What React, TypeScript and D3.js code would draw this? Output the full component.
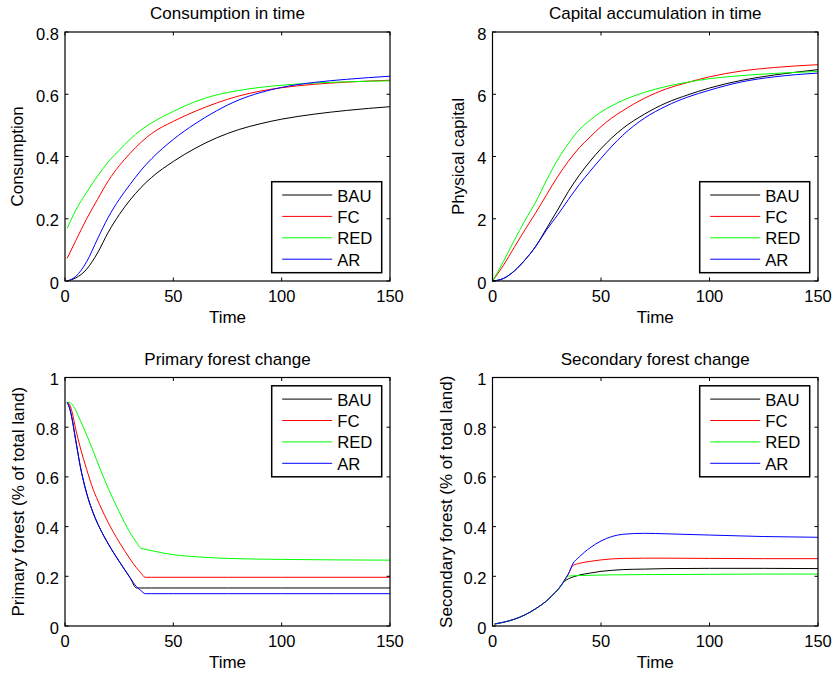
import React from 'react';
import * as d3 from 'd3';

const SCENARIOS = ['BAU', 'FC', 'RED', 'AR'];
const COLORS = ['#000000', '#ff0000', '#00ff00', '#0000ff'];

// Consumption in time
const T1 = [1, 5, 10, 15, 20, 25, 30, 35, 40, 50, 60, 70, 80, 90, 100, 115, 130, 150];
const consBAU = [0.0, 0.01, 0.038, 0.09, 0.157, 0.213, 0.26, 0.3, 0.333, 0.384, 0.426, 0.46, 0.486, 0.505, 0.52, 0.536, 0.548, 0.56];
const consFC = [0.073, 0.13, 0.2, 0.262, 0.322, 0.37, 0.41, 0.445, 0.474, 0.513, 0.545, 0.572, 0.594, 0.61, 0.621, 0.632, 0.639, 0.645];
const consRED = [0.169, 0.228, 0.285, 0.337, 0.383, 0.42, 0.455, 0.485, 0.508, 0.545, 0.576, 0.598, 0.612, 0.622, 0.629, 0.636, 0.64, 0.643];
const consAR = [0.0, 0.015, 0.062, 0.135, 0.205, 0.262, 0.31, 0.355, 0.393, 0.455, 0.505, 0.547, 0.581, 0.605, 0.622, 0.638, 0.648, 0.658];

// Capital accumulation in time
const T2 = [0, 5, 10, 15, 20, 25, 30, 35, 40, 45, 50, 55, 60, 70, 80, 90, 100, 115, 130, 150];
const capBAU = [0, 0.08, 0.32, 0.68, 1.12, 1.7, 2.28, 2.88, 3.4, 3.85, 4.25, 4.6, 4.9, 5.36, 5.72, 5.98, 6.2, 6.45, 6.62, 6.79];
const capFC = [0, 0.5, 1.08, 1.65, 2.2, 2.78, 3.35, 3.85, 4.28, 4.63, 4.96, 5.24, 5.47, 5.87, 6.17, 6.38, 6.56, 6.75, 6.86, 6.95];
const capRED = [0, 0.62, 1.3, 1.95, 2.55, 3.25, 3.89, 4.42, 4.86, 5.17, 5.43, 5.63, 5.8, 6.06, 6.25, 6.39, 6.5, 6.6, 6.67, 6.73];
const capAR = [0, 0.08, 0.32, 0.68, 1.12, 1.65, 2.12, 2.62, 3.1, 3.53, 3.94, 4.33, 4.68, 5.23, 5.62, 5.91, 6.13, 6.4, 6.56, 6.68];

// Primary forest change
const T3 = [1, 2, 3, 5, 7, 10, 13, 16, 20, 25, 30, 33, 35, 37, 40, 50, 60, 75, 100, 125, 150];
const priBAU = [0.9, 0.88, 0.845, 0.745, 0.645, 0.534, 0.455, 0.395, 0.33, 0.26, 0.195, 0.153, 0.153, 0.153, 0.153, 0.153, 0.153, 0.153, 0.153, 0.153, 0.153];
const priFC = [0.9, 0.893, 0.87, 0.79, 0.72, 0.63, 0.55, 0.488, 0.415, 0.338, 0.27, 0.234, 0.214, 0.196, 0.196, 0.196, 0.196, 0.196, 0.196, 0.196, 0.196];
const priRED = [0.9, 0.9, 0.895, 0.867, 0.828, 0.769, 0.704, 0.637, 0.553, 0.46, 0.376, 0.337, 0.313, 0.309, 0.303, 0.287, 0.279, 0.272, 0.268, 0.266, 0.265];
const priAR = [0.9, 0.88, 0.845, 0.745, 0.645, 0.534, 0.455, 0.395, 0.33, 0.26, 0.195, 0.158, 0.143, 0.13, 0.13, 0.13, 0.13, 0.13, 0.13, 0.13, 0.13];

// Secondary forest change
const T4 = [1, 5, 10, 15, 20, 25, 28, 30, 32, 33, 35, 37, 40, 45, 50, 55, 60, 70, 80, 100, 125, 150];
const secBAU = [0.008, 0.015, 0.027, 0.045, 0.07, 0.102, 0.127, 0.145, 0.168, 0.178, 0.19, 0.197, 0.205, 0.213, 0.22, 0.224, 0.227, 0.229, 0.231, 0.232, 0.232, 0.231];
const secFC = [0.008, 0.015, 0.027, 0.045, 0.07, 0.102, 0.127, 0.145, 0.168, 0.182, 0.21, 0.243, 0.252, 0.26, 0.266, 0.27, 0.272, 0.273, 0.273, 0.272, 0.271, 0.271];
const secRED = [0.008, 0.015, 0.027, 0.045, 0.07, 0.102, 0.127, 0.145, 0.168, 0.18, 0.201, 0.202, 0.203, 0.204, 0.205, 0.206, 0.206, 0.207, 0.207, 0.208, 0.209, 0.209];
const secAR = [0.008, 0.015, 0.027, 0.045, 0.07, 0.102, 0.127, 0.145, 0.168, 0.182, 0.21, 0.25, 0.278, 0.315, 0.342, 0.36, 0.369, 0.373, 0.371, 0.366, 0.36, 0.357];

const X_TICKS = [0, 50, 100, 150];
const Y_TICKS_CONS = [0, 0.2, 0.4, 0.6, 0.8];
const Y_TICKS_CAP = [0, 2, 4, 6, 8];
const Y_TICKS_FOREST = [0, 0.2, 0.4, 0.6, 0.8, 1];

const FONT = '"Liberation Sans", Arial, Helvetica, sans-serif';

type PanelProps = {
  left: number; top: number; right: number; bottom: number;
  title: string; ylabel: string; yTicks: number[];
  T: number[]; series: number[][]; legendTop: boolean; ylabelOffset: number;
};

function Panel(p: PanelProps) {
  const x = d3.scaleLinear().domain([0, 150]).range([p.left, p.right]);
  const y = d3.scaleLinear().domain([p.yTicks[0], p.yTicks[p.yTicks.length - 1]]).range([p.bottom, p.top]);
  const tl = 3.5;
  const cx = (p.left + p.right) / 2;
  const cy = (p.top + p.bottom) / 2;
  const lw = 110, lh = 91;
  const lx = p.right - 8.3 - lw;
  const ly = p.legendTop ? p.top + 8.3 : p.bottom - 8.3 - lh;
  return (
    <g>
      {p.series.map((vals, si) => {
        const line = d3.line<number>()
          .x((_, i) => x(p.T[i]))
          .y((d) => y(d))
          .curve(d3.curveMonotoneX);
        return <path key={si} d={line(vals) || ''} fill="none" stroke={COLORS[si]} strokeWidth={1} />;
      })}
      <rect x={p.left} y={p.top} width={p.right - p.left} height={p.bottom - p.top} fill="none" stroke="#000" strokeWidth={1.2} />
      {X_TICKS.map((t) => (
        <g key={'x' + t}>
          <line x1={x(t)} x2={x(t)} y1={p.bottom} y2={p.bottom - tl} stroke="#000" />
          <line x1={x(t)} x2={x(t)} y1={p.top} y2={p.top + tl} stroke="#000" />
          <text x={x(t)} y={p.bottom + 20.7} textAnchor="middle" fontSize={16.5} fontFamily={FONT}>{String(t)}</text>
        </g>
      ))}
      {p.yTicks.map((v) => (
        <g key={'y' + v}>
          <line x1={p.left} x2={p.left + tl} y1={y(v)} y2={y(v)} stroke="#000" />
          <line x1={p.right} x2={p.right - tl} y1={y(v)} y2={y(v)} stroke="#000" />
          <text x={p.left - 6} y={y(v) + 7.5} textAnchor="end" fontSize={16.5} fontFamily={FONT}>{String(v)}</text>
        </g>
      ))}
      <text x={cx} y={p.bottom + 41.5} textAnchor="middle" fontSize={17} fontFamily={FONT}>Time</text>
      <text x={cx} y={p.top - 12.8} textAnchor="middle" fontSize={17} fontFamily={FONT}>{p.title}</text>
      <text transform={`translate(${p.left - p.ylabelOffset},${cy}) rotate(-90)`} textAnchor="middle" fontSize={17} fontFamily={FONT}>{p.ylabel}</text>
      <rect x={lx} y={ly} width={lw} height={lh} fill="#fff" stroke="#000" strokeWidth={1.5} />
      {SCENARIOS.map((s, i) => {
        const ry = ly + 13.3 + i * 21.4;
        return (
          <g key={s}>
            <line x1={lx + 10.5} x2={lx + 60.5} y1={ry} y2={ry} stroke={COLORS[i]} strokeWidth={1} />
            <text x={lx + 65.5} y={ry + 6.5} fontSize={16.7} fontFamily={FONT}>{s}</text>
          </g>
        );
      })}
    </g>
  );
}

export default function App() {
  return (
    <svg width={835} height={675} style={{ position: 'absolute', left: 0, top: 0, background: '#fff' }}>
      <rect x={0} y={0} width={835} height={675} fill="#fff" />
      <Panel left={65} top={32} right={390} bottom={281} title="Consumption in time" ylabel="Consumption"
        yTicks={Y_TICKS_CONS} T={T1} series={[consBAU, consFC, consRED, consAR]} legendTop={false} ylabelOffset={42} />
      <Panel left={492.5} top={32} right={818} bottom={281} title="Capital accumulation in time" ylabel="Physical capital"
        yTicks={Y_TICKS_CAP} T={T2} series={[capBAU, capFC, capRED, capAR]} legendTop={false} ylabelOffset={28.5} />
      <Panel left={65} top={377.5} right={390} bottom={626} title="Primary forest change" ylabel="Primary forest (% of total land)"
        yTicks={Y_TICKS_FOREST} T={T3} series={[priBAU, priFC, priRED, priAR]} legendTop={true} ylabelOffset={41.5} />
      <Panel left={492.5} top={377.5} right={818} bottom={626} title="Secondary forest change" ylabel="Secondary forest (% of total land)"
        yTicks={Y_TICKS_FOREST} T={T4} series={[secBAU, secFC, secRED, secAR]} legendTop={true} ylabelOffset={41} />
    </svg>
  );
}
